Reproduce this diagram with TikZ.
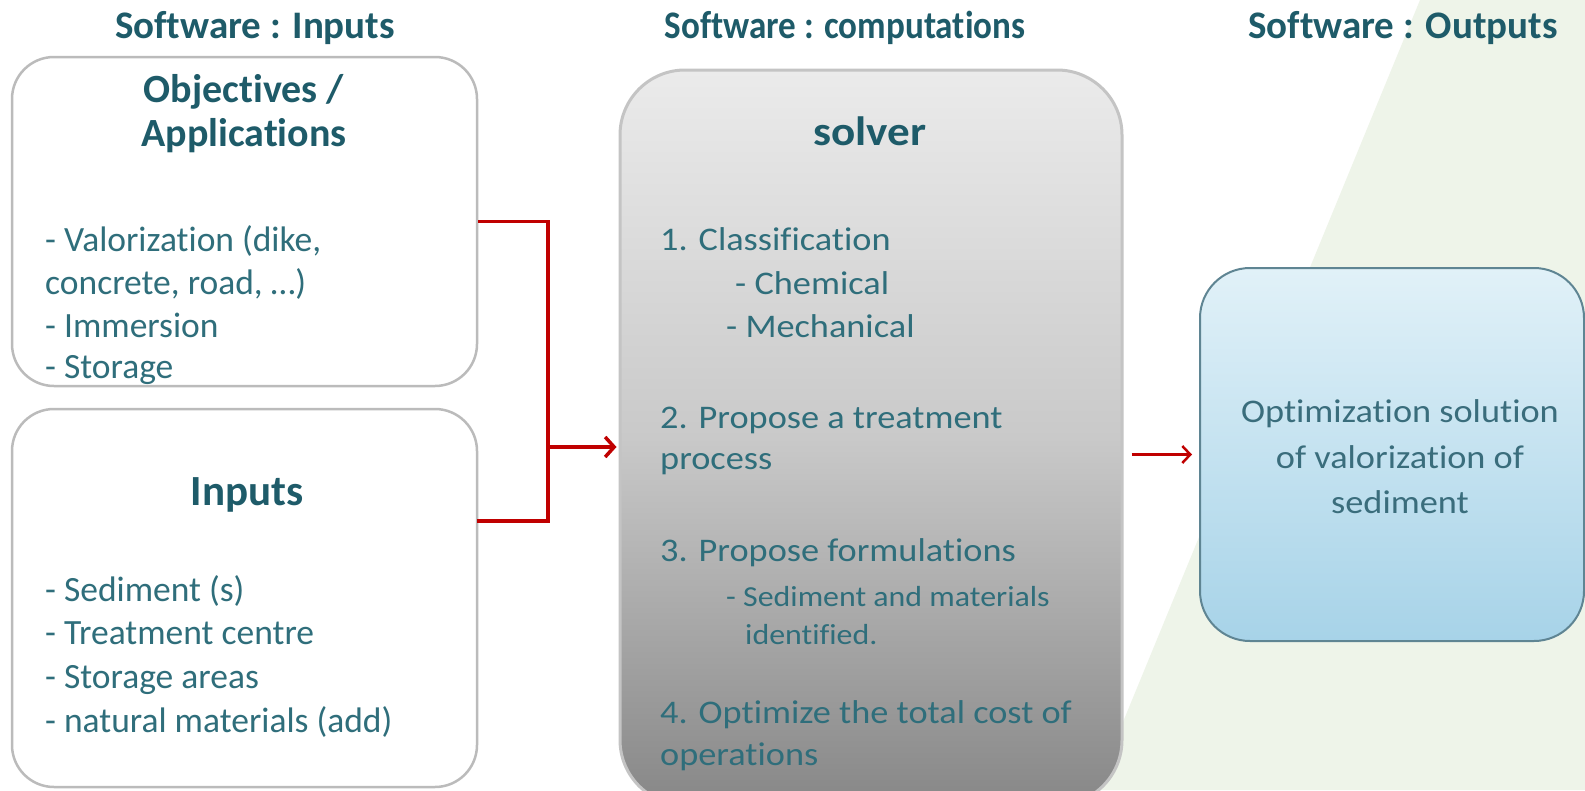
\documentclass[tikz,border=0pt]{standalone}
\usepackage{fontspec}
\usepackage{graphicx}
\setmainfont{Carlito}[Ligatures=NoCommon]
\newfontfamily\widefont{Carlito}[FakeStretch=1.1,Ligatures=NoCommon]
\usetikzlibrary{arrows.meta,calc}

\definecolor{headcol}{HTML}{1E5B69}
\definecolor{bodycol}{HTML}{2F6E7B}
\definecolor{outtext}{HTML}{3A6D7C}
\definecolor{boxgray}{HTML}{BBBBBB}
\definecolor{solvedge}{HTML}{C4C4C4}
\definecolor{solvtop}{HTML}{EBEBEB}
\definecolor{solvmid}{HTML}{C9C9C9}
\definecolor{solvbot}{HTML}{878787}
\definecolor{outedge}{HTML}{5F8593}
\definecolor{outtop}{HTML}{E1F1F8}
\definecolor{outbot}{HTML}{A7D3E8}
\definecolor{flowred}{HTML}{C00000}
\definecolor{bggreen}{HTML}{EEF4E9}

\tikzset{
  header/.style={anchor=base, text=headcol, font=\fontsize{39}{46}\selectfont\bfseries, inner sep=0},
  boxtitle/.style={anchor=base, text=headcol, font=\fontsize{40}{47}\selectfont\bfseries, inner sep=0},
  bullet/.style={anchor=base west, text=bodycol, font=\fontsize{35.5}{42}\selectfont, inner sep=0},
  solvitem/.style={anchor=base west, text=bodycol, font=\widefont\fontsize{33}{40}\selectfont, inner sep=0},
  solvsmall/.style={anchor=base west, text=bodycol, font=\widefont\fontsize{29}{35}\selectfont, inner sep=0},
  outline/.style={anchor=base, text=outtext, font=\widefont\fontsize{33}{40}\selectfont, inner sep=0},
  inbox/.style={draw=boxgray, line width=2.5pt, fill=white, rounded corners=42pt, inner sep=0},
  flow/.style={draw=flowred, line width=3.5pt},
  flowtip/.style={-{Straight Barb[length=9pt,width=20pt,line width=3.5pt]}}
}

\begin{document}
\begin{tikzpicture}[x=1pt,y=-1pt]
  \useasboundingbox (0,0) rectangle (1585,790);
  \fill[white] (0,0) rectangle (1585,790);
  % pale green band behind the outputs column
  \fill[bggreen] (1420,0) -- (1585,0) -- (1585,790) -- (1095,790) -- cycle;

  % column headers
  \node[header] (hin)  at (255,38)  {Software : Inputs};
  \node[header] (hcmp) at (845,38)  {\scalebox{0.9}[1]{Software : computations}};
  \node[header] (hout) at (1403,38) {Software : Outputs};

  % input boxes
  \node[inbox, minimum width=465pt, minimum height=329pt] (obj) at (244.5,221.5) {};
  \node[inbox, minimum width=465pt, minimum height=378pt] (inp) at (244.5,598) {};

  \node[boxtitle] (objt1) at (244,102) {Objectives /};
  \node[boxtitle] (objt2) at (244,146) {Applications};
  \node[bullet] (ob1) at (45,251) {- Valorization (dike,};
  \node[bullet] (ob2) at (45,294) {concrete, road, \dots)};
  \node[bullet] (ob3) at (45,337) {- Immersion};
  \node[bullet] (ob4) at (45,378) {- Storage};

  \node[boxtitle, font=\fontsize{43}{50}\selectfont\bfseries] (inpt) at (247,505) {Inputs};
  \node[bullet] (ib1) at (45,601) {- Sediment (s)};
  \node[bullet] (ib2) at (45,644) {- Treatment centre};
  \node[bullet] (ib3) at (45,688) {- Storage areas};
  \node[bullet] (ib4) at (45,732) {- natural materials (add)};

  % solver box
  \node[draw=solvedge, line width=3pt, rounded corners=65pt, top color=solvtop,
        bottom color=solvbot, middle color=solvmid, minimum width=502pt, minimum height=735pt, inner sep=0]
        (solver) at (871,437.5) {};
  \node[anchor=base, text=headcol, font=\widefont\fontsize{41}{48}\selectfont\bfseries, inner sep=0]
        (solvt) at (870,145) {solver};
  \node[solvitem] (s1)  at (660,250) {1. Classification};
  \node[solvitem] (s1a) at (735,294) {- Chemical};
  \node[solvitem] (s1b) at (726,337) {- Mechanical};
  \node[solvitem] (s2)  at (660,428) {2. Propose a treatment};
  \node[solvitem] (s2b) at (660,469) {process};
  \node[solvitem] (s3)  at (660,561) {3. Propose formulations};
  \node[solvsmall] (s3a) at (726,606) {- Sediment and materials};
  \node[solvsmall] (s3b) at (745,644) {identified.};
  \node[solvitem] (s4)  at (660,723) {4. Optimize the total cost of};
  \node[solvitem] (s4b) at (660,765) {operations};

  % output box
  \node[draw=outedge, line width=2pt, rounded corners=50pt, top color=outtop,
        bottom color=outbot, minimum width=384pt, minimum height=373pt, inner sep=0]
        (out) at (1392,454.5) {};
  \node[outline] (o1) at (1400,422) {Optimization solution};
  \node[outline] (o2) at (1400,468) {of valorization of};
  \node[outline] (o3) at (1400,513) {sediment};

  % connectors
  \coordinate (join) at (548,447);
  \coordinate (inpout) at (477,521);
  \draw[flow] (obj.east) -| (join);
  \draw[flow] (inpout) -| (join);
  \draw[flow, flowtip] (join) -- ($(solver.west |- join)+(-2,0)$);
  \draw[flow, line width=2.5pt, -{Straight Barb[length=8pt,width=17pt,line width=2.5pt]}]
       ($(solver.east |- out.west)+(8,0)$) -- ($(out.west)+(-7,0)$);
\end{tikzpicture}
\end{document}
